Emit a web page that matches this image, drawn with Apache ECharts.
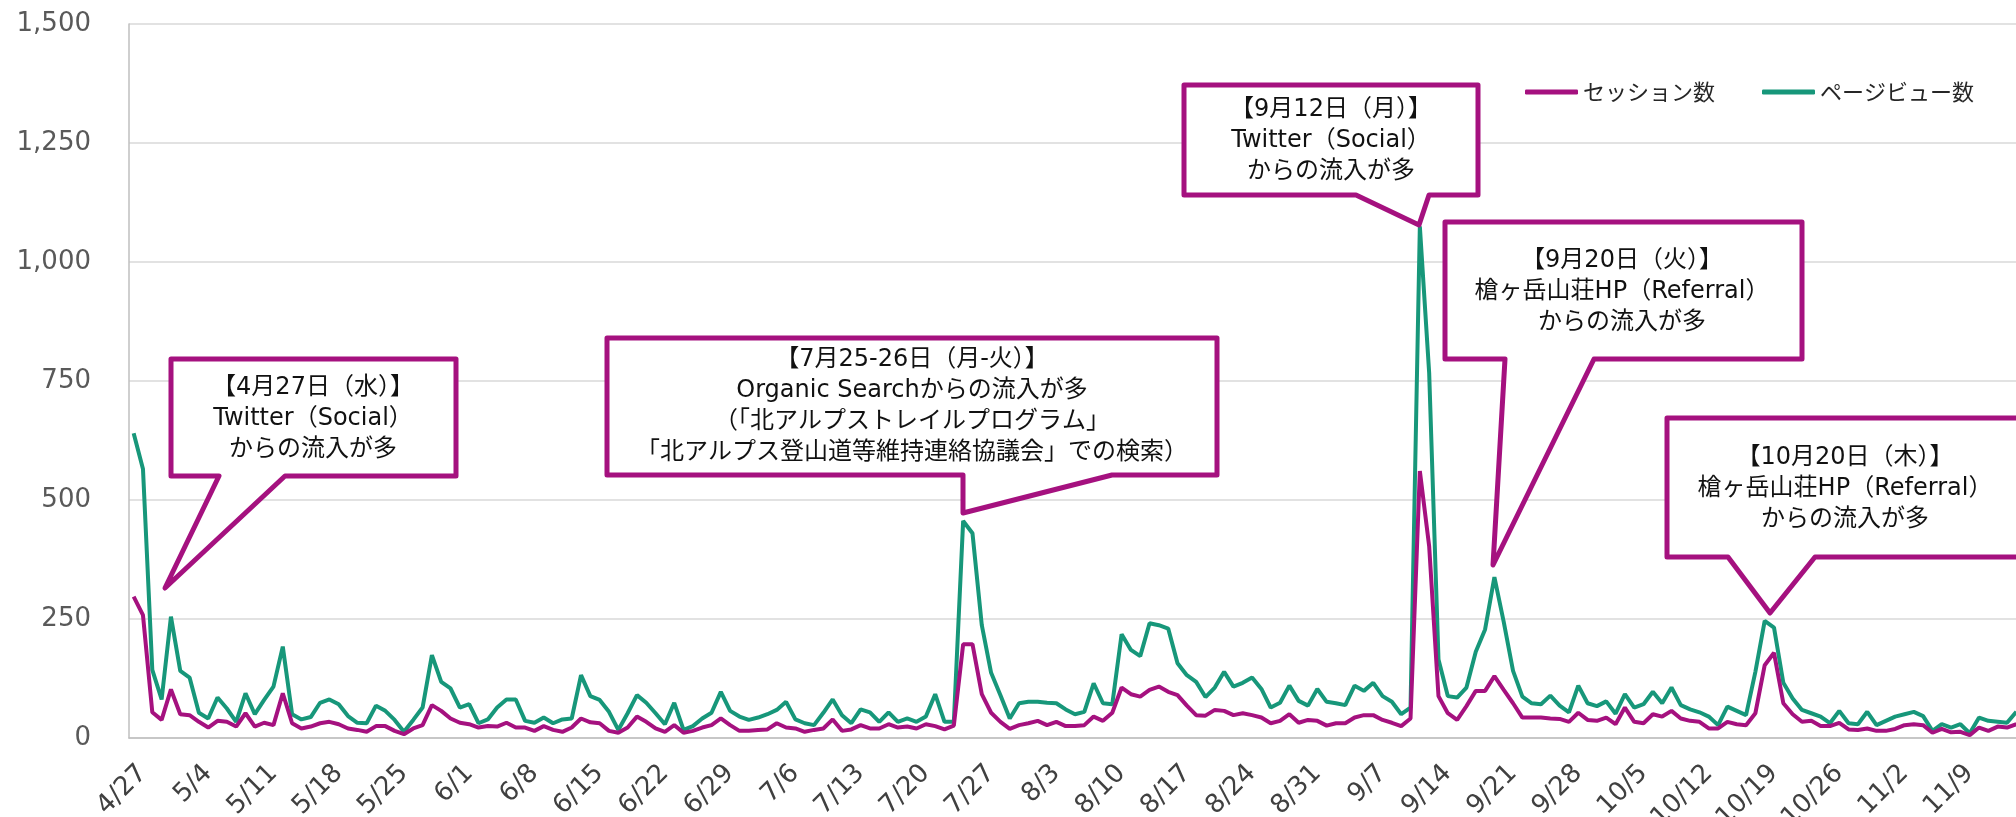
<!doctype html>
<html lang="ja">
<head>
  <meta charset="utf-8">
  <title>セッション数・ページビュー数</title>
  <script src="https://cdn.jsdelivr.net/npm/echarts@6/dist/echarts.min.js"></script>
  <style>
    html, body { margin: 0; padding: 0; background: #ffffff; }
    #chart { width: 2016px; height: 817px; }
  </style>
</head>
<body>
  <div id="chart"></div>
  <script type="text/javascript">
    // daily values from 4/27 to 11/15
    const startMonth = 4;
    const startDay = 27;
    const dayCount = 203;

    const sessions = [
      297, 258, 54, 38, 102, 50, 48, 34, 22, 36, 34, 24, 52, 24, 32, 27, 94, 31, 20, 24,
      31, 34, 29, 20, 17, 13, 25, 25, 15, 8, 20, 27, 69, 57, 41, 32, 29, 22, 25, 24,
      32, 22, 22, 15, 25, 17, 13, 22, 41, 33, 31, 15, 11, 22, 45, 34, 20, 13, 27, 11,
      15, 22, 27, 41, 27, 15, 15, 17, 18, 31, 22, 20, 13, 17, 20, 39, 15, 18, 27, 20,
      20, 29, 22, 24, 20, 29, 25, 18, 26, 197, 197, 92, 53, 34, 19, 27, 31, 36, 27, 34,
      25, 25, 27, 45, 36, 53, 106, 92, 87, 101, 108, 97, 90, 68, 48, 47, 59, 57, 48, 52,
      48, 43, 31, 36, 50, 32, 38, 36, 26, 31, 31, 43, 48, 48, 38, 32, 25, 41, 561, 403,
      88, 52, 38, 67, 99, 99, 130, 101, 73, 43, 43, 43, 41, 40, 34, 53, 38, 36, 43, 29,
      64, 34, 31, 50, 45, 57, 41, 36, 34, 20, 20, 34, 29, 27, 52, 153, 179, 73, 50, 34,
      36, 25, 25, 32, 18, 17, 20, 15, 15, 19, 27, 29, 27, 11, 19, 12, 13, 6, 22, 15,
      24, 22, 29
    ];

    const pageViews = [
      640, 565, 143, 81, 255, 141, 127, 53, 41, 85, 62, 34, 94, 50, 80, 108, 192, 50, 39, 44,
      74, 81, 71, 46, 32, 31, 68, 57, 38, 13, 38, 64, 174, 118, 104, 64, 71, 31, 39, 64,
      81, 81, 36, 32, 43, 31, 39, 41, 132, 88, 80, 55, 17, 52, 90, 74, 52, 29, 74, 17,
      25, 41, 53, 97, 57, 45, 38, 43, 50, 59, 76, 39, 31, 27, 53, 81, 48, 31, 60, 54,
      34, 54, 34, 41, 34, 45, 92, 34, 34, 456, 430, 237, 137, 90, 41, 73, 76, 76, 74, 73,
      60, 50, 55, 115, 73, 71, 218, 185, 172, 241, 237, 230, 157, 132, 118, 86, 106, 139, 108, 116,
      127, 103, 64, 74, 110, 78, 68, 103, 76, 73, 69, 110, 99, 116, 88, 76, 50, 64, 1075, 767,
      165, 88, 85, 106, 181, 228, 338, 244, 141, 87, 73, 71, 89, 68, 54, 110, 73, 67, 77, 51,
      92, 64, 71, 97, 73, 106, 69, 60, 54, 45, 27, 66, 57, 48, 139, 246, 232, 116, 83, 59,
      52, 45, 31, 57, 31, 29, 55, 27, 36, 45, 50, 55, 46, 15, 29, 22, 29, 10, 43, 36,
      34, 32, 55
    ];

    const seriesNames = ['セッション数', 'ページビュー数'];

    const notes = [
      '【4月27日（水）】\nTwitter（Social）\nからの流入が多',
      '【7月25-26日（月-火）】\nOrganic Searchからの流入が多\n（「北アルプストレイルプログラム」\n「北アルプス登山道等維持連絡協議会」での検索）',
      '【9月12日（月）】\nTwitter（Social）\nからの流入が多',
      '【9月20日（火）】\n槍ヶ岳山荘HP（Referral）\nからの流入が多',
      '【10月20日（木）】\n槍ヶ岳山荘HP（Referral）\nからの流入が多'
    ];

    // date labels m/d
    const monthDays = { 4: 30, 5: 31, 6: 30, 7: 31, 8: 31, 9: 30, 10: 31, 11: 30 };
    const dates = [];
    let m = startMonth, d = startDay;
    for (let i = 0; i < dayCount; i++) {
      dates.push(m + '/' + d);
      d++;
      if (d > monthDays[m]) { d = 1; m++; }
    }

    const purple = '#A5117F';
    const green = '#17977A';
    const cjk = '"Noto Sans CJK JP", "Noto Sans", sans-serif';
    const mixed = '"DejaVu Sans", "Noto Sans CJK JP", sans-serif';

    // callout shapes (pixel layout)
    const callouts = [
      { pts: [[171,359],[456,359],[456,476],[285,476],[165,588],[219,476],[171,476]], tx: 313, ty: 419 },
      { pts: [[607,338],[1217,338],[1217,475],[1112,475],[963,513],[963,475],[607,475]], tx: 912, ty: 406 },
      { pts: [[1184,85],[1478,85],[1478,195],[1429,195],[1419,225],[1356,195],[1184,195]], tx: 1331, ty: 141 },
      { pts: [[1445,222],[1802,222],[1802,359],[1594,359],[1493,565],[1505,359],[1445,359]], tx: 1622, ty: 292 },
      { pts: [[1667,418],[2040,418],[2040,557],[1815,557],[1770,613],[1728,557],[1667,557]], tx: 1845, ty: 489 }
    ];

    const graphics = [];
    callouts.forEach((c, i) => {
      graphics.push({
        type: 'polygon',
        z: 100,
        shape: { points: c.pts },
        style: { fill: '#ffffff', stroke: purple, lineWidth: 5, lineJoin: 'round' }
      });
      graphics.push({
        type: 'text',
        z: 101,
        x: c.tx,
        y: c.ty,
        style: {
          text: notes[i],
          font: '24px ' + mixed,
          fill: '#111111',
          align: 'center',
          verticalAlign: 'middle',
          lineHeight: 31
        }
      });
    });

    const chart = echarts.init(document.getElementById('chart'));
    const option = {
      animation: false,
      backgroundColor: '#ffffff',
      grid: { left: 129, right: -5, top: 24, bottom: 79, containLabel: false, outerBoundsMode: 'none' },
      legend: {
        left: 1520,
        top: 76,
        itemWidth: 53,
        itemHeight: 5,
        itemGap: 47,
        icon: 'roundRect',
        textStyle: { fontFamily: cjk, fontSize: 22, color: '#262626' },
        data: seriesNames
      },
      xAxis: {
        type: 'category',
        data: dates,
        boundaryGap: true,
        axisLine: { lineStyle: { color: '#BFBFBF', width: 1.5 } },
        axisTick: { show: false },
        axisLabel: {
          interval: 6,
          rotate: 45,
          margin: 22,
          verticalAlign: 'top',
          align: 'right',
          color: '#404040',
          fontFamily: 'DejaVu Sans',
          fontSize: 26
        }
      },
      yAxis: {
        type: 'value',
        min: 0,
        max: 1500,
        interval: 250,
        axisLine: { show: true, lineStyle: { color: '#BFBFBF', width: 1.5 } },
        axisTick: { show: false },
        splitLine: { lineStyle: { color: '#D9D9D9', width: 1.5 } },
        axisLabel: {
          margin: 38,
          color: '#595959',
          fontFamily: 'DejaVu Sans',
          fontSize: 26,
          formatter: (v) => v.toLocaleString('en-US')
        }
      },
      series: [
        {
          name: seriesNames[0],
          type: 'line',
          data: sessions,
          symbol: 'none',
          color: purple,
          lineStyle: { width: 4, color: purple },
          z: 3
        },
        {
          name: seriesNames[1],
          type: 'line',
          data: pageViews,
          symbol: 'none',
          color: green,
          lineStyle: { width: 4, color: green },
          z: 2
        }
      ],
      graphic: graphics
    };
    chart.setOption(option);
  </script>
</body>
</html>
